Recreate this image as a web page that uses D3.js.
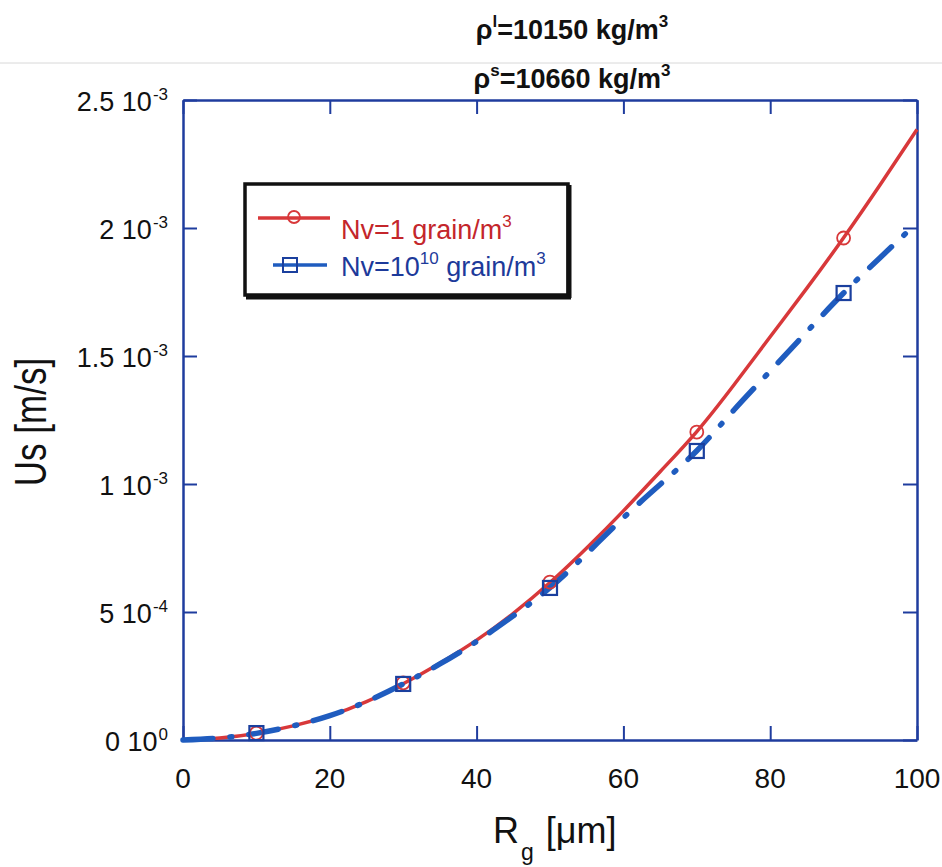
<!DOCTYPE html>
<html><head><meta charset="utf-8">
<script src="https://cdn.jsdelivr.net/npm/d3@7"></script>
<style>body{margin:0;background:#fff}svg{display:block}text{font-family:"Liberation Sans",Arial,sans-serif}</style>
</head><body>
<svg id="c" width="942" height="867"></svg>
<script>
const xTicks = [0, 20, 40, 60, 80, 100];
const yTicks = [0, 5e-4, 1e-3, 1.5e-3, 2e-3, 2.5e-3];
const yTickMant = ["0", "5", "1", "1.5", "2", "2.5"];
const yTickExp = ["0", "-4", "-3", "-3", "-3", "-3"];
const curveX = [0, 5, 10, 15, 20, 25, 30, 35, 40, 45, 50, 55, 60, 65, 70, 75, 80, 85, 90, 95, 100];
const redY = [0, 0.008e-3, 0.026e-3, 0.055e-3, 0.095e-3, 0.150e-3, 0.220e-3, 0.300e-3, 0.390e-3, 0.495e-3, 0.615e-3, 0.750e-3, 0.895e-3, 1.048e-3, 1.205e-3, 1.385e-3, 1.575e-3, 1.765e-3, 1.962e-3, 2.170e-3, 2.385e-3];
const blueY = [0, 0.008e-3, 0.026e-3, 0.055e-3, 0.095e-3, 0.150e-3, 0.219e-3, 0.297e-3, 0.385e-3, 0.485e-3, 0.595e-3, 0.728e-3, 0.868e-3, 0.998e-3, 1.130e-3, 1.287e-3, 1.441e-3, 1.595e-3, 1.746e-3, 1.885e-3, 2.020e-3];
const markerX = [10, 30, 50, 70, 90];
const redMarkY = [0.027e-3, 0.223e-3, 0.617e-3, 1.203e-3, 1.961e-3];
const blueMarkY = [0.027e-3, 0.219e-3, 0.594e-3, 1.129e-3, 1.746e-3];

const svg = d3.select("#c");
const L = 183, R = 917, T = 100, B = 740;
const x = d3.scaleLinear().domain([0, 100]).range([L, R]);
const y = d3.scaleLinear().domain([0, 2.5e-3]).range([B, T]);
const axisCol = "#1f3c9e", red = "#d8383a", blue = "#1f5cbf";

// faint scan line
svg.append("line").attr("x1", 0).attr("x2", 942).attr("y1", 63).attr("y2", 63).attr("stroke", "#d8d8d8").attr("stroke-width", 1);

// titles
function title(yb, sup, rest) {
  const t = svg.append("text").attr("x", 572).attr("y", yb).attr("text-anchor", "middle").attr("font-size", 27).attr("font-weight", "bold").attr("fill", "#111");
  t.append("tspan").text("ρ");
  t.append("tspan").attr("dy", -12).attr("font-size", 17).text(sup);
  t.append("tspan").attr("dy", 12).text(rest);
  t.append("tspan").attr("dy", -12).attr("font-size", 17).text("3");
}
title(39, "l", "=10150 kg/m");
title(88, "s", "=10660 kg/m");

// axes with inward ticks
const tl = 14;
const styleAxis = g => { g.selectAll("path").attr("stroke", axisCol).attr("stroke-width", 2.5); g.selectAll("line").attr("stroke", axisCol).attr("stroke-width", 2); g.selectAll("text").remove(); };
svg.append("g").attr("transform", `translate(0,${B})`).call(d3.axisBottom(x).tickValues(xTicks).tickSize(-tl).tickSizeOuter(0)).call(styleAxis);
svg.append("g").attr("transform", `translate(0,${T})`).call(d3.axisTop(x).tickValues(xTicks).tickSize(-tl).tickSizeOuter(0)).call(styleAxis);
svg.append("g").attr("transform", `translate(${L},0)`).call(d3.axisLeft(y).tickValues(yTicks).tickSize(-tl).tickSizeOuter(0)).call(styleAxis);
svg.append("g").attr("transform", `translate(${R},0)`).call(d3.axisRight(y).tickValues(yTicks).tickSize(-tl).tickSizeOuter(0)).call(styleAxis);

// x tick labels
svg.append("g").selectAll("text").data(xTicks).join("text")
  .attr("x", d => x(d)).attr("y", 788).attr("text-anchor", "middle").attr("font-size", 28).attr("fill", "#111").text(d => d);
// y tick labels
const yl = svg.append("g").selectAll("text").data(yTicks).join("text")
  .attr("x", 168).attr("y", d => y(d) + 11).attr("text-anchor", "end").attr("font-size", 27).attr("fill", "#111");
yl.append("tspan").text((d, i) => yTickMant[i] + "\u00a010");
yl.append("tspan").attr("dy", -11).attr("dx", 1).attr("font-size", 17).text((d, i) => yTickExp[i]);

// axis titles
svg.append("text").attr("transform", "translate(46,422) scale(1.25,1) rotate(-90)").attr("text-anchor", "middle").attr("font-size", 35).attr("fill", "#111").text("Us [m/s]");
const xt = svg.append("text").attr("x", 493).attr("y", 843).attr("font-size", 36).attr("fill", "#111");
xt.append("tspan").text("R");
xt.append("tspan").attr("dy", 17).attr("dx", 2).attr("font-size", 23).text("g");
xt.append("tspan").attr("dy", -17).attr("dx", 2).text(" [μm]");

// curves
const line = d3.line().x(d => x(d[0])).y(d => y(d[1])).curve(d3.curveNatural);
svg.append("path").datum(curveX.map((v, i) => [v, redY[i]])).attr("d", line)
  .attr("fill", "none").attr("stroke", red).attr("stroke-width", 3.5);
svg.append("path").datum(curveX.map((v, i) => [v, blueY[i]])).attr("d", line)
  .attr("fill", "none").attr("stroke", blue).attr("stroke-width", 5.5).attr("stroke-linecap", "round").attr("stroke-dasharray", "30,17,2,17");

// markers
svg.append("g").selectAll("circle").data(markerX).join("circle")
  .attr("cx", d => x(d)).attr("cy", (d, i) => y(redMarkY[i])).attr("r", 6.5)
  .attr("fill", "none").attr("stroke", red).attr("stroke-width", 1.8);
svg.append("g").selectAll("rect").data(markerX).join("rect")
  .attr("x", d => x(d) - 7).attr("y", (d, i) => y(blueMarkY[i]) - 7).attr("width", 14).attr("height", 14)
  .attr("fill", "none").attr("stroke", "#1a3f9e").attr("stroke-width", 2.2);

// legend
const lg = svg.append("g");
lg.append("rect").attr("x", 245).attr("y", 184).attr("width", 323).attr("height", 111).attr("fill", "#fff").attr("stroke", "#111").attr("stroke-width", 3.5);
lg.append("line").attr("x1", 569).attr("x2", 569).attr("y1", 185).attr("y2", 298).attr("stroke", "#111").attr("stroke-width", 5);
lg.append("line").attr("x1", 246).attr("x2", 571).attr("y1", 297).attr("y2", 297).attr("stroke", "#111").attr("stroke-width", 5);
lg.append("line").attr("x1", 258).attr("x2", 330).attr("y1", 218).attr("y2", 218).attr("stroke", red).attr("stroke-width", 3.5);
lg.append("circle").attr("cx", 294).attr("cy", 217).attr("r", 6).attr("fill", "none").attr("stroke", red).attr("stroke-width", 1.8);
lg.append("line").attr("x1", 273).attr("x2", 327).attr("y1", 265).attr("y2", 265).attr("stroke", blue).attr("stroke-width", 3.5);
lg.append("rect").attr("x", 283).attr("y", 258).attr("width", 14).attr("height", 14).attr("fill", "none").attr("stroke", "#1a3f9e").attr("stroke-width", 2);
const l1 = lg.append("text").attr("x", 341).attr("y", 239).attr("font-size", 27).attr("fill", "#c4262b");
l1.append("tspan").text("Nv=1 grain/m");
l1.append("tspan").attr("dy", -12).attr("font-size", 17).text("3");
const l2 = lg.append("text").attr("x", 341).attr("y", 276).attr("font-size", 27).attr("fill", "#1d3a9a");
l2.append("tspan").text("Nv=10");
l2.append("tspan").attr("dy", -12).attr("font-size", 17).text("10");
l2.append("tspan").attr("dy", 12).text(" grain/m");
l2.append("tspan").attr("dy", -12).attr("font-size", 17).text("3");
</script>
</body></html>
